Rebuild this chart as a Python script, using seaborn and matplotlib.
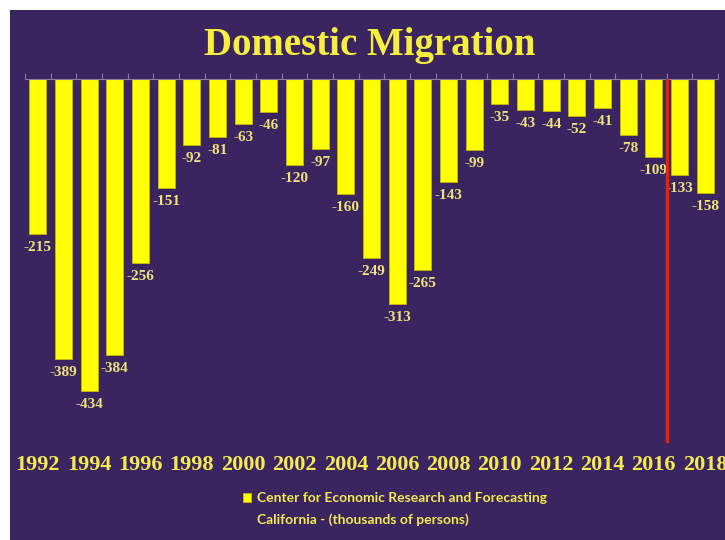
import numpy as np
import pandas as pd
import seaborn as sns
import matplotlib.pyplot as plt
from matplotlib.patches import Rectangle

# data (thousands of persons)
years = list(range(1992, 2019))
migration = [-215, -389, -434, -384, -256, -151, -92, -81, -63, -46,
             -120, -97, -160, -249, -313, -265, -143, -99, -35, -43,
             -44, -52, -41, -78, -109, -133, -158]
marker_year = 2016.5

bgcolor = "#3a2560"
barcolor = "#ffff00"
labelcolor = "#efe27a"
tickcolor = "#f5ea50"

df = pd.DataFrame({"year": [str(y) for y in years], "migration": migration})

sns.set_theme(style="white")
plt.rcParams["font.family"] = ["Liberation Serif", "DejaVu Serif"]

fig = plt.figure(figsize=(7.25, 5.4), dpi=100, facecolor="white")
# purple panel, white strip top and left
bg = Rectangle((10 / 725, 0), 1, 1 - 10 / 540, transform=fig.transFigure,
               facecolor=bgcolor, edgecolor="none", zorder=-10)
fig.add_artist(bg)
ax = fig.add_axes([25 / 725, 1 - 443 / 540, 693 / 725, 364 / 540])
ax.set_zorder(2)
ax.set_facecolor("none")

sns.barplot(data=df, x="year", y="migration", color=barcolor, saturation=1,
            width=0.66, edgecolor="#c9b800", linewidth=0.6, ax=ax,
            label="Center for Economic Research and Forecasting")

# value labels below each bar
for i, v in enumerate(migration):
    ax.annotate(str(v), (i, v), xytext=(0, -5), textcoords="offset points",
                ha="center", va="top", color=labelcolor, fontsize=11, fontweight="bold")

# red marker line between 2016 and 2017
xpos = years.index(2016) + (marker_year - 2016)
ax.axvline(xpos, color="#e8200e", linewidth=2.5, zorder=5)

ax.set_xlim(-0.5, len(years) - 0.5)
ax.set_ylim(-506, 0)
ax.set_yticks([])
ax.set_ylabel("")
ax.set_xlabel("")

ax.set_xticks(range(0, len(years), 2))
ax.set_xticklabels([str(y) for y in years[::2]], color=tickcolor, fontsize=16, fontweight="bold")
ax.set_xticks(np.arange(-0.5, len(years), 1), minor=True)
ax.tick_params(axis="x", which="major", length=0, pad=9)
ax.tick_params(axis="x", which="minor", top=True, bottom=False, direction="out",
               length=4, width=0.8, color="#8a7fa0")

for s in ["left", "right", "bottom"]:
    ax.spines[s].set_visible(False)
ax.spines["top"].set_color("#8a7fa0")
ax.spines["top"].set_linewidth(0.8)

fig.text(0.51, 1 - 45 / 540, "Domestic Migration", ha="center", va="center",
         color="#f7ef3c", fontsize=28, fontweight="bold")

legfont = {"family": "Lato", "weight": "bold", "size": 10}
leg = ax.legend(loc="center left", bbox_to_anchor=(236 / 725, 1 - 498 / 540),
                bbox_transform=fig.transFigure, frameon=False, handlelength=0.6,
                handleheight=0.6, handletextpad=0.4, borderpad=0, prop=legfont)
for t in leg.get_texts():
    t.set_color(tickcolor)

# second legend line, aligned with the first line's text
fig.canvas.draw()
bb = leg.get_texts()[0].get_window_extent().transformed(fig.transFigure.inverted())
fig.text(bb.x0, 1 - 520 / 540, "California - (thousands of persons)", ha="left", va="center",
         color=tickcolor, **legfont)

plt.savefig("out.png", dpi=100, facecolor="white")
